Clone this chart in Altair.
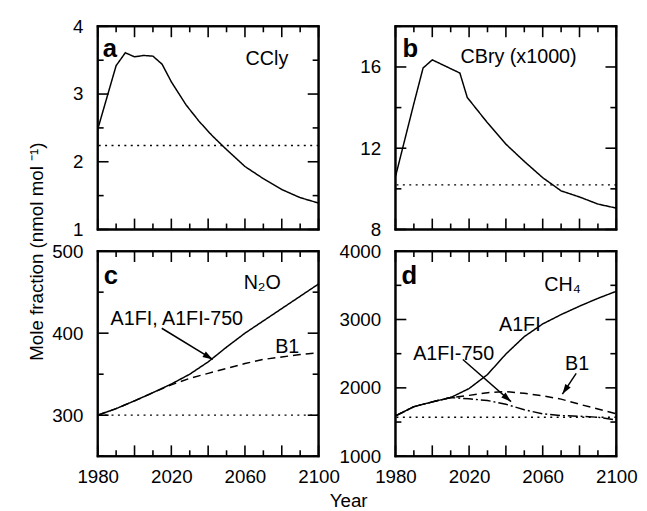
import math
import altair as alt
import pandas as pd

# ---------------- data ----------------
X_MAJOR = [1980, 2000, 2020, 2040, 2060, 2080, 2100]
X_MINOR = [1990, 2010, 2030, 2050, 2070, 2090]
X_LABELS = [1980, 2020, 2060, 2100]
X_DOMAIN = [1980, 2100]

# panel a : CCly
A_YEARS = [1980, 1985, 1990, 1995, 2000, 2005, 2010, 2015, 2020, 2028, 2035, 2042, 2050, 2060, 2070, 2080, 2090, 2100]
A_CCLY = [2.48, 2.95, 3.42, 3.61, 3.55, 3.57, 3.56, 3.44, 3.18, 2.84, 2.60, 2.39, 2.18, 1.93, 1.75, 1.59, 1.47, 1.39]
A_REF = 2.24

# panel b : CBry (x1000)
B_YEARS = [1980, 1990, 1995, 2000, 2015, 2019, 2030, 2040, 2050, 2060, 2070, 2080, 2090, 2100]
B_CBRY = [10.6, 14.2, 15.95, 16.35, 15.7, 14.5, 13.25, 12.2, 11.35, 10.55, 9.9, 9.6, 9.25, 9.05]
B_REF = 10.2

# panel c : N2O
C_YEARS = [1980, 1990, 2000, 2010, 2020, 2030, 2040, 2050, 2060, 2070, 2080, 2090, 2100]
C_A1FI = [300, 308, 317.5, 327.5, 338, 350, 365, 383, 400, 415, 430, 445, 460]
C_B1 = [300, 308, 317.5, 327.5, 337, 345, 351, 357, 363, 368, 371, 374, 376]
C_REF = 300

# panel d : CH4
D_YEARS = [1980, 1990, 2000, 2010, 2020, 2030, 2040, 2050, 2060, 2070, 2080, 2090, 2100]
D_A1FI = [1590, 1725, 1795, 1858, 1990, 2195, 2495, 2750, 2935, 3072, 3195, 3310, 3413]
D_A1FI750 = [1590, 1725, 1795, 1858, 1840, 1815, 1760, 1680, 1620, 1595, 1585, 1570, 1530]
D_B1 = [1590, 1725, 1795, 1858, 1890, 1930, 1945, 1920, 1885, 1835, 1760, 1690, 1620]
D_REF = 1570

# arrows: (x0, y0, x1, y1) in data units, tip at (x1, y1)
C_ARROWS = [(2014.8, 406, 2042.5, 368)]
D_ARROWS = [(2016.6, 2414, 2042.8, 1798), (2078.2, 2212, 2070.7, 1909)]

FONT = "Liberation Sans"
W = 224
MAJ, MIN = 11, 6
FRAME_W = 2.0
TICK_W = 1.6
DASHES = {"solid": [1, 0], "dash": [8, 5], "dashdot": [10, 3, 2, 3]}
ARROW_PATH = "M0,0L0.32,1L-0.32,1Z"


def panel(lines, ref, ydom, ymaj, ymin, h, xaxis, yaxis, texts, arrows=()):
    xs = alt.Scale(domain=X_DOMAIN, nice=False, zero=False)
    ys = alt.Scale(domain=ydom, nice=False, zero=False)
    xspan = X_DOMAIN[1] - X_DOMAIN[0]
    yspan = ydom[1] - ydom[0]
    x0d, x1d = X_DOMAIN
    y0d, y1d = ydom
    px_x = xspan / W   # data units per pixel, x
    px_y = yspan / h   # data units per pixel, y

    def X(f):
        return alt.X(f, type="quantitative", scale=xs, axis=xaxis)

    def Y(f):
        return alt.Y(f, type="quantitative", scale=ys, axis=yaxis)

    layers = []
    # curves
    rows = []
    for name, style, years, vals in lines:
        for yr, v in zip(years, vals):
            rows.append({"year": yr, "value": v, "series": name, "style": style})
    ld = pd.DataFrame(rows)
    styles = list(DASHES.keys())
    layers.append(alt.Chart(ld).mark_line(color="black", strokeWidth=1.5).encode(
        x=X("year"), y=Y("value"), detail="series:N",
        strokeDash=alt.StrokeDash("style:N", scale=alt.Scale(domain=styles, range=[DASHES[s] for s in styles]), legend=None)))
    # reference (dotted) level
    layers.append(alt.Chart(pd.DataFrame({"v": [ref]})).mark_rule(
        color="black", strokeWidth=1.3, strokeDash=[2, 4.5]).encode(y=Y("v")))

    # frame and inward ticks as thin filled rectangles
    hw_x = FRAME_W / 2 * px_x
    hw_y = FRAME_W / 2 * px_y
    boxes = [
        (x0d - hw_x, x1d + hw_x, y0d - hw_y, y0d + hw_y),
        (x0d - hw_x, x1d + hw_x, y1d - hw_y, y1d + hw_y),
        (x0d - hw_x, x0d + hw_x, y0d - hw_y, y1d + hw_y),
        (x1d - hw_x, x1d + hw_x, y0d - hw_y, y1d + hw_y),
    ]
    tw_x = TICK_W / 2 * px_x
    tw_y = TICK_W / 2 * px_y
    for vals, ln in ((X_MAJOR, MAJ), (X_MINOR, MIN)):
        for t in vals:
            boxes.append((t - tw_x, t + tw_x, y0d, y0d + ln * px_y))
            boxes.append((t - tw_x, t + tw_x, y1d - ln * px_y, y1d))
    for vals, ln in ((ymaj, MAJ), (ymin, MIN)):
        for t in vals:
            boxes.append((x0d, x0d + ln * px_x, t - tw_y, t + tw_y))
            boxes.append((x1d - ln * px_x, x1d, t - tw_y, t + tw_y))
    bd = pd.DataFrame(boxes, columns=["bx0", "bx1", "by0", "by1"])
    layers.append(alt.Chart(bd).mark_rect(color="black", opacity=1, strokeWidth=0).encode(
        x=X("bx0"), x2="bx1", y=Y("by0"), y2="by1"))

    # arrows
    if arrows:
        seg, heads = [], []
        for i, (ax0, ay0, ax1, ay1) in enumerate(arrows):
            seg += [{"a": i, "year": ax0, "value": ay0}, {"a": i, "year": ax1, "value": ay1}]
            dx = (ax1 - ax0) / xspan * W
            dy = -(ay1 - ay0) / yspan * h
            ang = math.degrees(math.atan2(dx, -dy)) % 360
            heads.append({"year": ax1, "value": ay1, "ang": ang})
        layers.append(alt.Chart(pd.DataFrame(seg)).mark_line(color="black", strokeWidth=1.5).encode(
            x=X("year"), y=Y("value"), detail="a:N"))
        layers.append(alt.Chart(pd.DataFrame(heads)).mark_point(
            shape=ARROW_PATH, filled=True, color="black", size=420, opacity=1).encode(
            x=X("year"), y=Y("value"), angle=alt.Angle("ang:Q", scale=None)))
    # text annotations
    for txt, px, py, size, weight in texts:
        layers.append(alt.Chart(pd.DataFrame({"label": [txt]})).mark_text(
            align="left", baseline="alphabetic", font=FONT, fontSize=size,
            fontWeight=weight, color="black").encode(text="label:N", x=alt.value(px), y=alt.value(py)))
    return alt.layer(*layers).properties(width=W, height=h)


def yaxis(vals, **kw):
    return alt.Axis(values=vals, format="d", labelPadding=15, title=kw.pop("title", None), **kw)


xbottom_c = alt.Axis(values=X_LABELS, format="d", labelPadding=12, title="Year",
                     titleX=254, titleY=51, titleAlign="center", titleBaseline="alphabetic")
xbottom_d = alt.Axis(values=X_LABELS, format="d", labelPadding=12, title=None)

pa = panel([("CCly", "solid", A_YEARS, A_CCLY)], A_REF, [1, 4], [1, 2, 3, 4], [1.5, 2.5, 3.5], 206,
           None, yaxis([1, 2, 3, 4]),
           [("a", 5, 31, 26, "bold"), ("CCly", 150, 39, 20, "normal")])
pb = panel([("CBry", "solid", B_YEARS, B_CBRY)], B_REF, [8, 18], [8, 12, 16], [10, 14, 18], 206,
           None, yaxis([8, 12, 16]),
           [("b", 7, 31, 26, "bold"), ("CBry (x1000)", 66, 37, 20, "normal")])
pc = panel([("A1FI", "solid", C_YEARS, C_A1FI), ("B1", "dash", C_YEARS, C_B1)], C_REF, [250, 500],
           [300, 400, 500], [250, 350, 450], 208,
           xbottom_c,
           yaxis([300, 400, 500], title="Mole fraction (nmol mol ⁻¹)", titleX=-56, titleY=0,
                 titleAngle=270, titleAlign="center", titleBaseline="alphabetic"),
           [("c", 6, 33, 26, "bold"), ("N₂O", 148, 38, 20, "normal"),
            ("A1FI, A1FI-750", 13, 75, 20, "normal"), ("B1", 180, 103, 20, "normal")],
           C_ARROWS)
pd_ = panel([("A1FI", "solid", D_YEARS, D_A1FI), ("A1FI-750", "dashdot", D_YEARS, D_A1FI750),
             ("B1", "dash", D_YEARS, D_B1)], D_REF, [1000, 4000],
            [1000, 2000, 3000, 4000], [1500, 2500, 3500], 208,
            xbottom_d, yaxis([1000, 2000, 3000, 4000]),
            [("d", 6, 33, 26, "bold"), ("CH₄", 151, 40, 20, "normal"), ("A1FI", 105, 81, 20, "normal"),
             ("A1FI-750", 18, 110, 20, "normal"), ("B1", 172, 121, 20, "normal")],
            D_ARROWS)

chart = alt.concat(pa, pb, pc, pd_, columns=2, spacing={"row": 22, "column": 78}, bounds="flush").properties(
    padding={"left": 18, "top": 5, "right": 0, "bottom": 0},
    background="white",
).configure_view(stroke="black", strokeWidth=2).configure_axis(
    domain=False, ticks=False, tickSize=0, grid=False, labelFont=FONT, labelFontSize=19,
    labelColor="black", labelFlush=False, labelOverlap=False, titleFont=FONT, titleFontSize=19,
    titleFontWeight="normal", titleColor="black"
)

chart.save("out.html", embed_options={"renderer": "svg", "actions": False})
